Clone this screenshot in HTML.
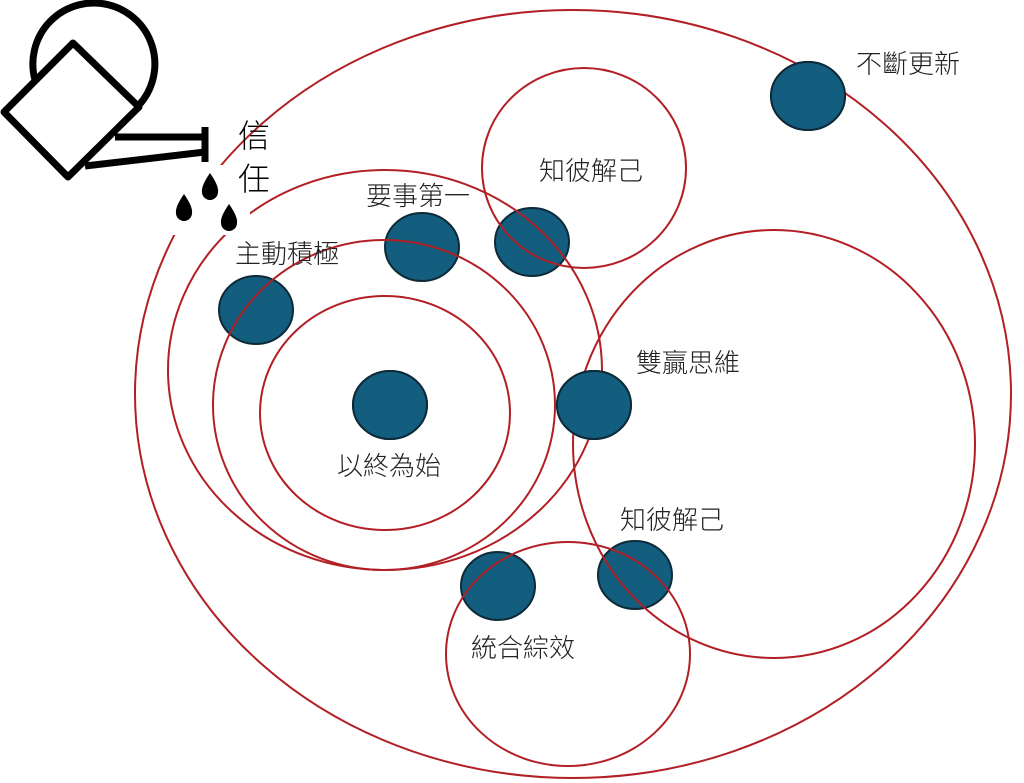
<!DOCTYPE html>
<html><head><meta charset="utf-8"><style>
html,body{margin:0;padding:0;background:#fff;}
svg{display:block}
text{font-family:"Liberation Sans","Noto Sans CJK TC",sans-serif;font-size:26px;font-weight:300;fill:#222}
</style></head><body>
<svg width="1024" height="783" viewBox="0 0 1024 783" xmlns="http://www.w3.org/2000/svg">
<g fill="#135e7e" stroke="#0d2a38" stroke-width="2">
<ellipse cx="808" cy="96" rx="37" ry="34"/>
<ellipse cx="532" cy="242" rx="37" ry="34"/>
<ellipse cx="422" cy="247" rx="37" ry="34"/>
<ellipse cx="256" cy="310" rx="37" ry="34"/>
<ellipse cx="390" cy="405" rx="37" ry="34"/>
<ellipse cx="594" cy="405" rx="37" ry="34"/>
<ellipse cx="635" cy="575" rx="37" ry="34"/>
<ellipse cx="498" cy="586" rx="37" ry="34"/>
</g>
<g fill="none" stroke="#b21f24" stroke-width="2">
<ellipse cx="573" cy="394" rx="438" ry="384"/>
<ellipse cx="385" cy="370" rx="217" ry="200"/>
<ellipse cx="384" cy="405" rx="171" ry="165"/>
<ellipse cx="385" cy="413" rx="125" ry="117"/>
<ellipse cx="584" cy="168" rx="102" ry="100"/>
<ellipse cx="774" cy="444" rx="201" ry="214"/>
<ellipse cx="568" cy="654" rx="122" ry="112"/>
</g>
<g fill="#135e7e" stroke="#0d2a38" stroke-width="2">
<ellipse cx="808" cy="96" rx="37" ry="34"/>
<ellipse cx="594" cy="405" rx="37" ry="34"/>
<ellipse cx="390" cy="405" rx="37" ry="34"/>
</g>
<!-- watering can -->
<rect x="170" y="165" width="80" height="70" fill="#fff"/>
<g fill="none" stroke="#000" stroke-width="7" stroke-linejoin="round">
<path d="M35 80 A61 61 0 1 1 139 105"/>
<polygon points="4,112 73,43 139,107 68,177"/>
<line x1="115" y1="137" x2="205" y2="137"/>
<line x1="85" y1="166" x2="205" y2="152"/>
<line x1="205" y1="127" x2="205" y2="162"/>
</g>
<g fill="#000">
<path d="M210 173 Q219 186 218 192 A8 8 0 0 1 202 192 Q201 186 210 173Z"/>
<path d="M184 194 Q193 207 192 213 A8 8 0 0 1 176 213 Q175 207 184 194Z"/>
<path d="M229 204 Q238 217 237 223 A8 8 0 0 1 221 223 Q220 217 229 204Z"/>
</g>
<text x="238" y="147" style="font-size:32px;fill:#000">信</text>
<text x="238" y="190" style="font-size:32px;fill:#000">任</text>
<text x="856" y="73">不斷更新</text>
<text x="539" y="180">知彼解己</text>
<text x="366" y="205">要事第一</text>
<text x="235" y="263">主動積極</text>
<text x="636" y="372">雙贏思維</text>
<text x="337" y="475">以終為始</text>
<text x="620" y="529">知彼解己</text>
<text x="471" y="657">統合綜效</text>
</svg>
</body></html>
